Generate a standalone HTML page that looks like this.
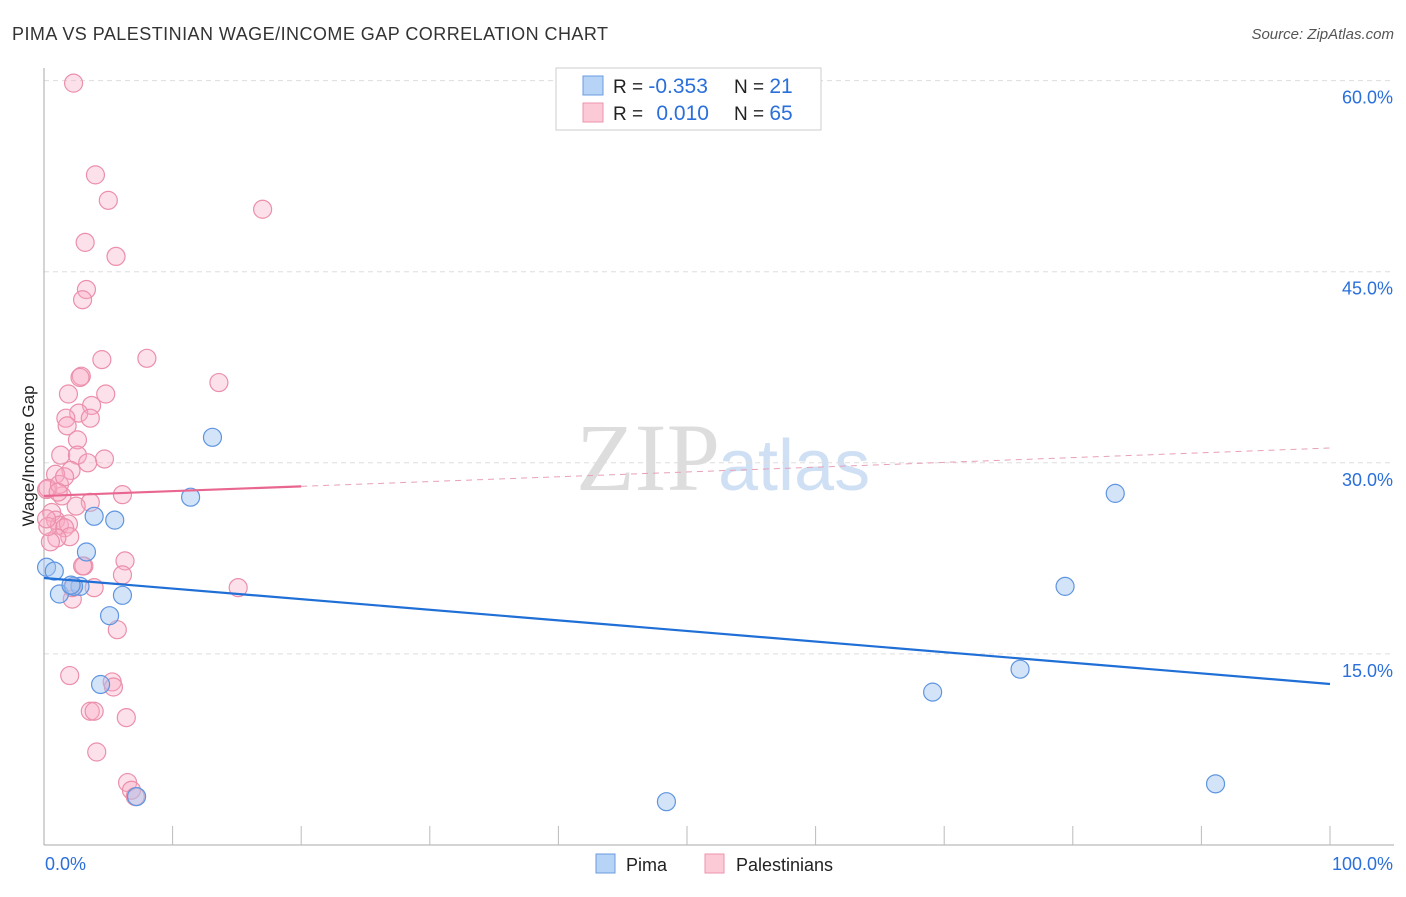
<!DOCTYPE html>
<html><head><meta charset="utf-8"><style>
body{margin:0;background:#fff;font-family:"Liberation Sans",sans-serif;}
</style></head><body>
<svg id="c" width="1406" height="892" xmlns="http://www.w3.org/2000/svg">
<text x="12" y="40" font-size="18" fill="#333" textLength="596">PIMA VS PALESTINIAN WAGE/INCOME GAP CORRELATION CHART</text>
<text x="1394" y="39" font-size="15" fill="#555" font-style="italic" text-anchor="end">Source: ZipAtlas.com</text>
<text x="720" y="490" font-size="96" fill="#ddd" text-anchor="end" font-family="Liberation Serif,serif">ZIP</text>
<text x="718" y="490" font-size="72" fill="#cfe0f5">atlas</text>
<text transform="translate(34,456) rotate(-90)" font-size="17" fill="#222" text-anchor="middle">Wage/Income Gap</text>
<g id="grid"></g><g id="axes"></g><g id="pts"></g><g id="lines"></g>
<g>
<rect x="556" y="68" width="265" height="62" fill="#fff" stroke="#ccc"/>
<rect x="583" y="76" width="20" height="19" fill="#b7d3f5" stroke="#6a9be0"/>
<rect x="583" y="103" width="20" height="19" fill="#fcc9d7" stroke="#ee93ad"/>
<text x="613" y="93" font-size="19" fill="#222">R = <tspan fill="#2a6fdb" font-size="21">-0.353</tspan></text>
<text x="734" y="93" font-size="19" fill="#222">N = <tspan fill="#2a6fdb" font-size="21">21</tspan></text>
<text x="613" y="120" font-size="19" fill="#222">R = <tspan fill="#2a6fdb" dx="8" font-size="21">0.010</tspan></text>
<text x="734" y="120" font-size="19" fill="#222">N = <tspan fill="#2a6fdb" font-size="21">65</tspan></text>
</g>
<g>
<rect x="596" y="854" width="19" height="19" fill="#b7d3f5" stroke="#6a9be0"/>
<text x="626" y="871" font-size="18" fill="#222">Pima</text>
<rect x="705" y="854" width="19" height="19" fill="#fcc9d7" stroke="#ee93ad"/>
<text x="736" y="871" font-size="18" fill="#222">Palestinians</text>
</g>
</svg>
<script>
const yTicks=[15,30,45,60];
const yTickLabels=["15.0%","30.0%","45.0%","60.0%"];
const xEndLabels=["0.0%","100.0%"];
const pimaX=[0.2,0.8,1.2,3.3,3.9,5.5,2.8,2.3,5.1,6.1,4.4,7.2,11.4,13.1,48.4,69.1,75.9,79.4,83.3,91.1,2.1];
const pimaY=[21.8,21.5,19.7,23.0,25.8,25.5,20.3,20.3,18.0,19.6,12.6,3.8,27.3,32.0,3.4,12.0,13.8,20.3,27.6,4.8,20.4];
const palX=[2.3,4.0,5.0,17.0,3.2,5.6,3.3,3.0,4.5,8.0,2.9,2.8,13.6,1.9,4.8,3.7,2.7,1.7,3.6,1.8,2.6,1.3,2.6,4.7,3.4,2.1,0.9,1.4,3.6,6.1,0.2,0.3,1.2,0.6,2.5,0.9,1.2,1.9,1.6,2.0,1.0,0.5,3.1,6.3,6.1,2.2,2.2,3.9,15.1,3.0,5.7,2.0,5.3,5.4,3.6,3.9,6.4,4.1,6.5,6.8,7.1,1.1,0.3,0.2,1.6];
const palY=[59.8,52.6,50.6,49.9,47.3,46.2,43.6,42.8,38.1,38.2,36.8,36.7,36.3,35.4,35.4,34.5,33.9,33.5,33.5,32.9,31.8,30.6,30.6,30.3,30.0,29.4,29.1,27.4,26.9,27.5,27.9,28.0,28.3,26.1,26.6,25.5,25.1,25.2,24.9,24.2,24.1,23.8,21.9,22.3,21.2,19.3,20.2,20.2,20.2,21.9,16.9,13.3,12.8,12.4,10.5,10.5,10.0,7.3,4.9,4.3,3.8,27.7,25.0,25.6,28.9];
const pimaLine=[20.96,12.64];
const palLine=[27.4,31.16];
const NS="http://www.w3.org/2000/svg";
const X=v=>44+v*12.86, Y=v=>845-v*12.74;
function mk(p,t,a){const e=document.createElementNS(NS,t);for(const k in a)e.setAttribute(k,a[k]);p.appendChild(e);return e;}
const grid=document.getElementById('grid'),axes=document.getElementById('axes'),pts=document.getElementById('pts'),lines=document.getElementById('lines');
yTicks.forEach((t,i)=>{
 const l=mk(grid,'line',{x1:44,x2:1394,y1:Y(t),y2:Y(t),stroke:'#ddd','stroke-dasharray':'5,4'});
 
 
 const tx=mk(axes,'text',{x:1393,y:Y(t)+23,'font-size':18,fill:'#2a6fdb','text-anchor':'end'});tx.textContent=yTickLabels[i];
 
 
});
mk(axes,'line',{x1:44,x2:44,y1:68,y2:845,stroke:'#aaa'});
mk(axes,'line',{x1:44,x2:1394,y1:845,y2:845,stroke:'#aaa'});
for(let i=1;i<=10;i++){const t=mk(axes,'line',{x1:X(i*10),x2:X(i*10),y1:826,y2:845,stroke:'#bbb'});
 
 }
const a0=mk(axes,'text',{x:45,y:870,'font-size':18,fill:'#2a6fdb'});a0.textContent=xEndLabels[0];


const a1=mk(axes,'text',{x:1393,y:870,'font-size':18,fill:'#2a6fdb','text-anchor':'end'});a1.textContent=xEndLabels[1];


palX.forEach((v,i)=>{const c=mk(pts,'circle',{cx:X(v),cy:Y(palY[i]),r:9,fill:'rgba(248,170,195,0.35)',stroke:'#eb8fab','stroke-width':1.2});
 
 });
pimaX.forEach((v,i)=>{const c=mk(pts,'circle',{cx:X(v),cy:Y(pimaY[i]),r:9,fill:'rgba(160,196,240,0.45)',stroke:'#5e95e0','stroke-width':1.2});
 
 });
const bl=mk(lines,'line',{x1:X(0),y1:Y(pimaLine[0]),x2:X(100),y2:Y(pimaLine[1]),stroke:'#1f6fd6','stroke-width':2.2});


const pm=v=>palLine[0]+(palLine[1]-palLine[0])*v/100;
const pl=mk(lines,'line',{x1:X(0),y1:Y(pm(0)),x2:X(20),y2:Y(pm(20)),stroke:'#e8668f','stroke-width':2.2});


const pd=mk(lines,'line',{x1:X(20),y1:Y(pm(20)),x2:X(100),y2:Y(pm(100)),stroke:'#e8a0b5','stroke-width':1,'stroke-dasharray':'6,5'});


</script>
</body></html>
